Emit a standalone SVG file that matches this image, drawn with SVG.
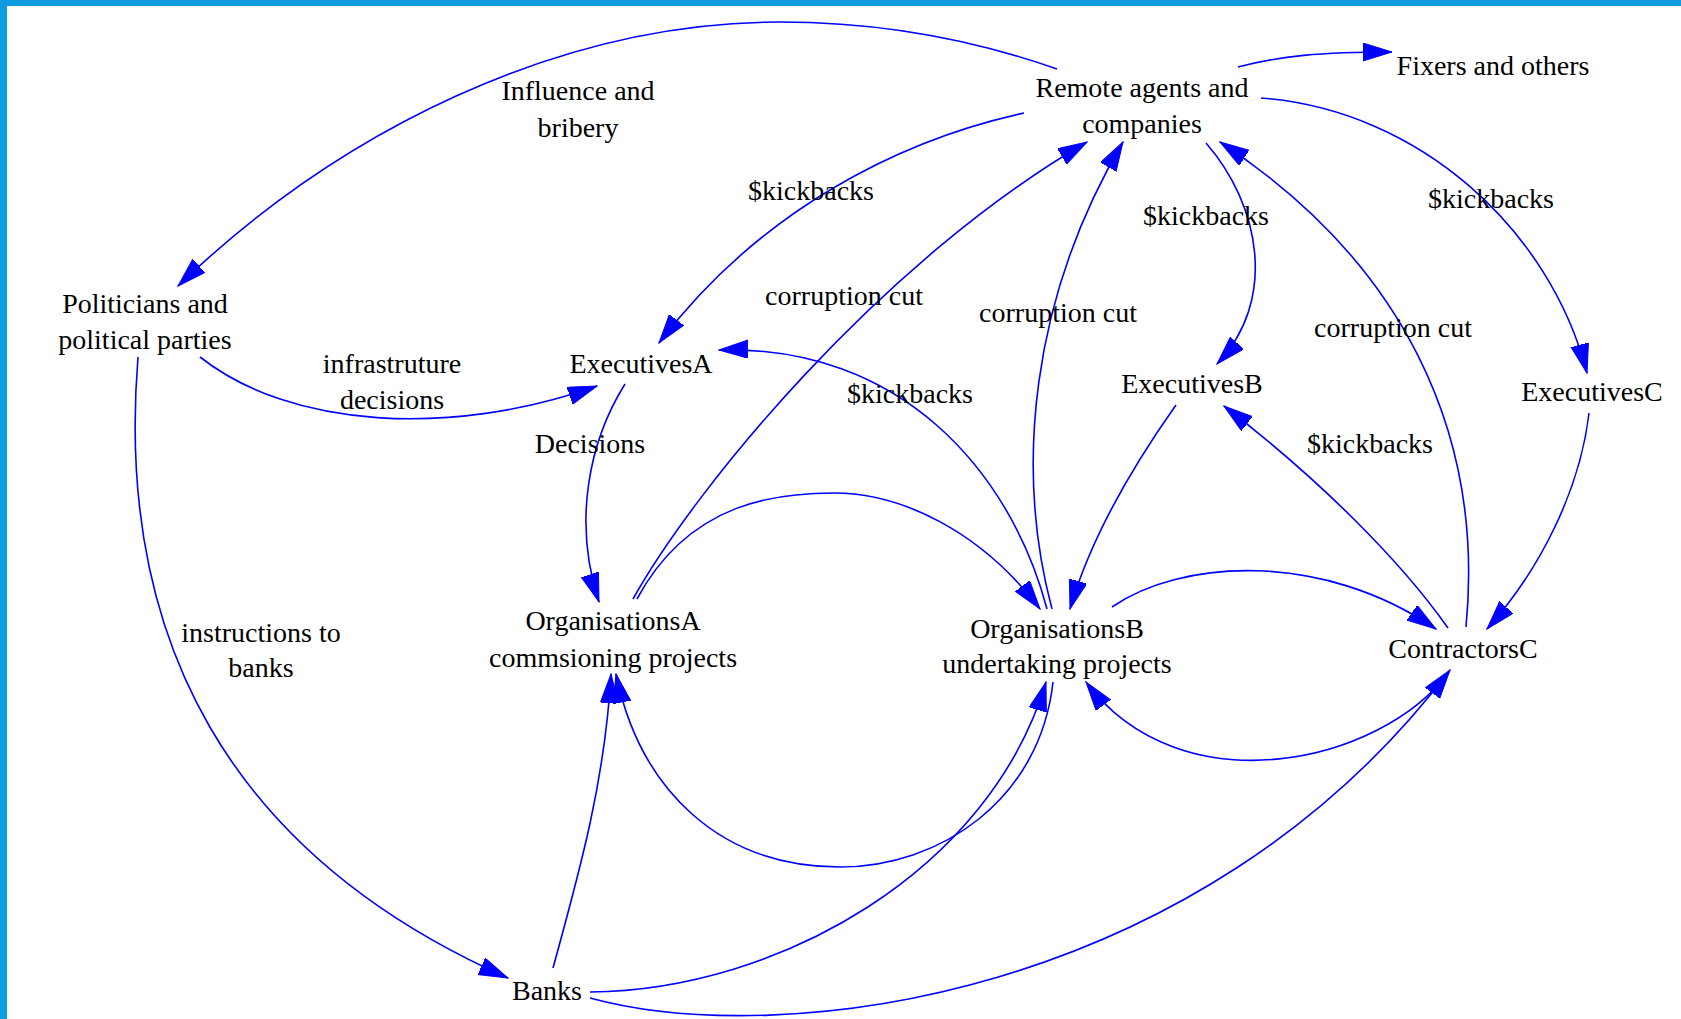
<svg xmlns="http://www.w3.org/2000/svg" width="1681" height="1019" viewBox="0 0 1681 1019">
  <defs>
    <style>
      text { font-family: "Liberation Serif", "Times New Roman", serif; font-size: 28px; fill: #000000; text-anchor: middle; }
      .edge path { fill: none; stroke: #0000ff; stroke-width: 1.6; marker-end: url(#arrow); }
    </style>
    <marker id="arrow" markerUnits="userSpaceOnUse" markerWidth="30" markerHeight="20" refX="29" refY="9" orient="auto">
      <path d="M0,0 L29,9 L0,18 z" fill="#0000ff" stroke="#0000ff" stroke-width="1"/>
    </marker>
  </defs>

  <!-- page background and frame -->
  <rect x="0" y="0" width="1681" height="1019" fill="#ffffff"/>
  <rect x="0" y="0" width="1681" height="6" fill="#0e9be0"/>
  <rect x="0" y="0" width="7" height="1019" fill="#0e9be0"/>

  <!-- connectors -->
  <g id="edges">
    <g class="edge" id="e-remote-politicians">
      <path d="M1057,69 C960,35 870,22 780,22 C560,22 340,130 178,286"/>
      <text x="578" y="100">Influence and</text>
      <text x="578" y="137">bribery</text>
    </g>
    <g class="edge" id="e-remote-fixers">
      <path d="M1238,67 C1280,56 1320,52 1392,52"/>
    </g>
    <g class="edge" id="e-remote-execA">
      <path d="M1024,113 C900,140 760,210 659,343"/>
      <text x="811" y="200">$kickbacks</text>
    </g>
    <g class="edge" id="e-remote-execB">
      <path d="M1206,143 C1260,205 1278,300 1217,364"/>
      <text x="1206" y="225">$kickbacks</text>
    </g>
    <g class="edge" id="e-remote-execC">
      <path d="M1261,98 C1420,110 1550,230 1587,373"/>
      <text x="1491" y="208">$kickbacks</text>
    </g>
    <g class="edge" id="e-politicians-execA">
      <path d="M200,357 C290,428 450,438 597,386"/>
      <text x="392" y="373">infrastruture</text>
      <text x="392" y="409">decisions</text>
    </g>
    <g class="edge" id="e-politicians-banks">
      <path d="M138,357 C115,640 230,855 508,978"/>
      <text x="261" y="642">instructions to</text>
      <text x="261" y="677">banks</text>
    </g>
    <g class="edge" id="e-execA-orgA">
      <path d="M625,384 C590,440 572,520 599,602"/>
      <text x="590" y="453">Decisions</text>
    </g>
    <g class="edge" id="e-orgA-remote">
      <path d="M633,599 C695,488 880,262 1087,142"/>
      <text x="844" y="305">corruption cut</text>
    </g>
    <g class="edge" id="e-orgA-orgB">
      <path d="M637,599 C690,500 780,493 834,493 C900,493 980,530 1040,609"/>
    </g>
    <g class="edge" id="e-orgB-orgA">
      <path d="M1053,682 C1040,800 940,867 840,867 C720,867 640,790 616,674"/>
    </g>
    <g class="edge" id="e-orgB-remote">
      <path d="M1052,609 C1015,470 1030,300 1123,142"/>
      <text x="1058" y="322">corruption cut</text>
    </g>
    <g class="edge" id="e-orgB-execA">
      <path d="M1047,609 C1010,470 900,345 719,350"/>
      <text x="910" y="403">$kickbacks</text>
    </g>
    <g class="edge" id="e-execB-orgB">
      <path d="M1176,405 C1130,470 1090,540 1070,609"/>
    </g>
    <g class="edge" id="e-orgB-contractorsC">
      <path d="M1112,607 C1180,560 1320,550 1436,629"/>
    </g>
    <g class="edge" id="e-contractorsC-orgB">
      <path d="M1449,672 C1380,765 1180,808 1086,682"/>
    </g>
    <g class="edge" id="e-contractorsC-execB">
      <path d="M1448,628 C1400,560 1320,480 1224,406"/>
      <text x="1370" y="453">$kickbacks</text>
    </g>
    <g class="edge" id="e-contractorsC-remote">
      <path d="M1466,627 C1485,430 1400,260 1220,142"/>
      <text x="1393" y="337">corruption cut</text>
    </g>
    <g class="edge" id="e-execC-contractorsC">
      <path d="M1589,413 C1580,490 1540,570 1487,629"/>
    </g>
    <g class="edge" id="e-banks-orgA">
      <path d="M553,968 C580,870 605,780 611,674"/>
    </g>
    <g class="edge" id="e-banks-orgB">
      <path d="M590,992 C780,990 990,870 1046,682"/>
    </g>
    <g class="edge" id="e-banks-contractorsC">
      <path d="M590,998 C780,1050 1200,1000 1450,670"/>
    </g>
  </g>

  <!-- nodes (plain text, no outline) -->
  <g id="node-remote"><text x="1142" y="97">Remote agents and</text><text x="1142" y="133">companies</text></g>
  <g id="node-fixers"><text x="1493" y="75">Fixers and others</text></g>
  <g id="node-politicians"><text x="145" y="313">Politicians and</text><text x="145" y="349">political parties</text></g>
  <g id="node-execA"><text x="641" y="373">ExecutivesA</text></g>
  <g id="node-execB"><text x="1192" y="393">ExecutivesB</text></g>
  <g id="node-execC"><text x="1592" y="401">ExecutivesC</text></g>
  <g id="node-orgA"><text x="613" y="630">OrganisationsA</text><text x="613" y="667">commsioning projects</text></g>
  <g id="node-orgB"><text x="1057" y="638">OrganisationsB</text><text x="1057" y="673">undertaking projects</text></g>
  <g id="node-contractorsC"><text x="1463" y="658">ContractorsC</text></g>
  <g id="node-banks"><text x="547" y="1000">Banks</text></g>
</svg>
